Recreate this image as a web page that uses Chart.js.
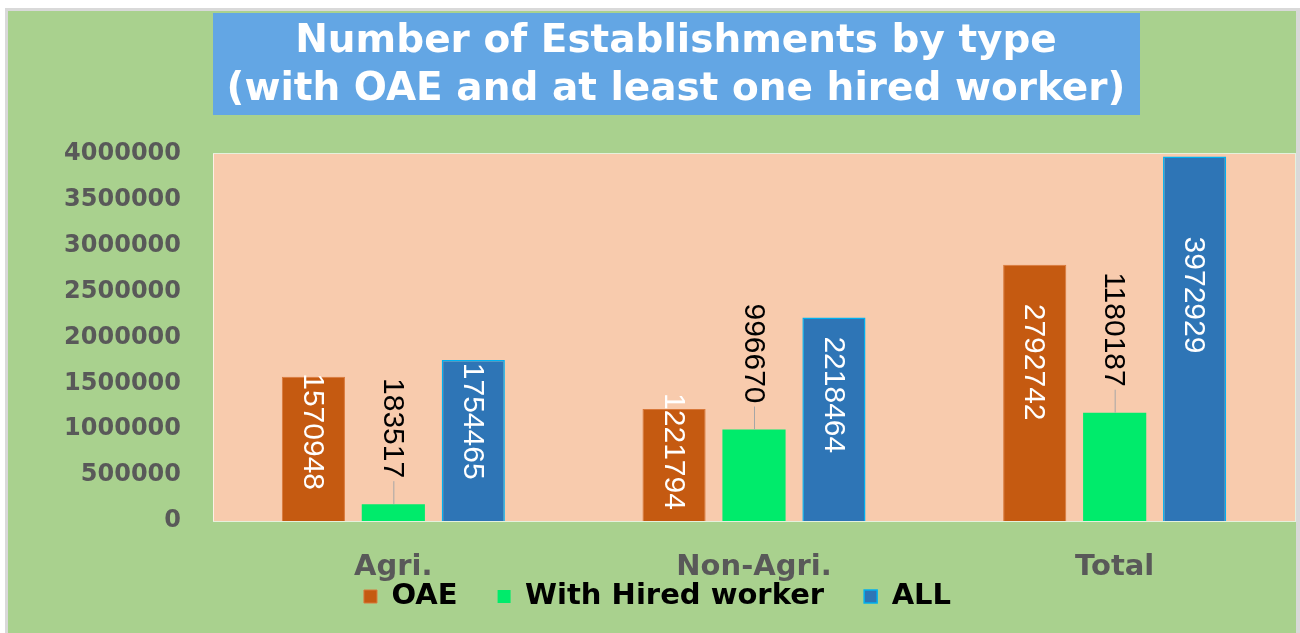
<!DOCTYPE html>
<html>
<head>
<meta charset="utf-8">
<script src="https://cdn.jsdelivr.net/npm/chart.js@4.4.1/dist/chart.umd.min.js"></script>
<style>
  html, body { margin: 0; padding: 0; background: #fff; }
  #wrap { width: 1300px; height: 633px; position: relative; }
</style>
</head>
<body>
<div id="wrap"><canvas id="estChart" width="1300" height="633"></canvas></div>
<script>
// 데이터
const categories = ['Agri.', 'Non-Agri.', 'Total'];
const oae = [1570948, 1221794, 2792742];
const hired = [183517, 996670, 1180187];
const all = [1754465, 2218464, 3972929];
const titleLines = ['Number of Establishments by type', '(with OAE and at least one hired worker)'];

// 배경, 제목 상자, 플롯 영역
const backdrop = {
    id: 'backdrop',
    beforeDraw(chart) {
        const { ctx, chartArea: a } = chart;
        ctx.save();
        ctx.fillStyle = '#ffffff';
        ctx.fillRect(0, 0, chart.width, chart.height);
        ctx.fillStyle = '#d9d9d9';
        ctx.fillRect(5, 8, chart.width - 5, chart.height - 8);
        ctx.fillStyle = '#a9d18e';
        ctx.fillRect(8, 11, chart.width - 12, chart.height - 11);
        // plot area
        ctx.fillStyle = '#f8cbad';
        ctx.fillRect(a.left, a.top, a.right - a.left, a.bottom - a.top);
        ctx.strokeStyle = 'rgba(255,255,255,0.7)';
        ctx.lineWidth = 1;
        ctx.strokeRect(a.left + 0.5, a.top - 0.5, a.right - a.left, a.bottom - a.top + 1);
        // title box
        ctx.fillStyle = '#63a6e4';
        ctx.fillRect(213, 13, 927, 102);
        ctx.fillStyle = '#ffffff';
        ctx.font = 'bold 39px "DejaVu Sans"';
        ctx.textAlign = 'center';
        ctx.textBaseline = 'middle';
        ctx.fillText(titleLines[0], 676, 42);
        ctx.fillText(titleLines[1], 676, 90);
        ctx.restore();
    }
};

// 막대 값 라벨 (세로 방향)
const barLabels = {
    id: 'barLabels',
    afterDatasetsDraw(chart) {
        const { ctx } = chart;
        ctx.save();
        ctx.font = '30px "Liberation Sans", Arial';
        ctx.textAlign = 'center';
        ctx.textBaseline = 'middle';
        chart.data.datasets.forEach((ds, di) => {
            chart.getDatasetMeta(di).data.forEach((bar, i) => {
                const txt = String(ds.data[i]);
                const w = ctx.measureText(txt).width;
                let cy;
                if (di === 1) {
                    // 초록 막대: 막대 위, 검은 글씨 + 지시선
                    const gap = 26;
                    cy = bar.y - gap - w / 2;
                    ctx.strokeStyle = '#a6a6a6';
                    ctx.lineWidth = 1;
                    ctx.beginPath();
                    ctx.moveTo(bar.x + 0.5, bar.y);
                    ctx.lineTo(bar.x + 0.5, bar.y - gap + 3);
                    ctx.stroke();
                    ctx.fillStyle = '#000000';
                } else {
                    cy = bar.y + (bar.base - bar.y) * 0.38;
                    ctx.fillStyle = '#ffffff';
                }
                ctx.save();
                ctx.translate(bar.x, cy);
                ctx.rotate(Math.PI / 2);
                ctx.fillText(txt, 0, 1);
                ctx.restore();
            });
        });
        ctx.restore();
    }
};

Chart.defaults.font.family = '"DejaVu Sans"';

const ctx = document.getElementById('estChart').getContext('2d');
new Chart(ctx, {
    type: 'bar',
    data: {
        labels: categories,
        datasets: [
            {
                label: 'OAE',
                data: oae,
                backgroundColor: '#c55a11',
                borderColor: '#d9783a',
                borderWidth: 1
            },
            {
                label: 'With Hired worker',
                data: hired,
                backgroundColor: '#00eb6b',
                borderColor: '#00eb6b',
                borderWidth: 0
            },
            {
                label: 'ALL',
                data: all,
                backgroundColor: '#2e75b6',
                borderColor: '#00b0f0',
                borderWidth: 1.5
            }
        ]
    },
    plugins: [backdrop, barLabels],
    options: {
        responsive: false,
        animation: false,
        layout: {
            padding: { left: 20, right: 5, top: 154, bottom: 12 }
        },
        datasets: {
            bar: { categoryPercentage: 0.665, barPercentage: 0.79 }
        },
        plugins: {
            title: { display: false },
            tooltip: { enabled: false },
            legend: {
                position: 'bottom',
                labels: {
                    color: '#000000',
                    boxWidth: 13,
                    boxHeight: 13,
                    padding: 40,
                    font: { size: 29, weight: 'bold' }
                }
            }
        },
        scales: {
            x: {
                grid: { display: false, drawTicks: false },
                border: { display: false },
                afterFit: s => {
                    s.height = 21;
                    // 축 높이를 줄였으니 라벨 클리핑은 끈다
                    s._computeLabelArea = () => undefined;
                },
                ticks: {
                    autoSkip: false,
                    maxRotation: 0,
                    color: '#595959',
                    padding: 29,
                    font: { size: 29, weight: 'bold' }
                }
            },
            y: {
                min: 0,
                max: 4000000,
                grid: { display: false, drawTicks: false },
                border: { display: false },
                afterFit: s => { s.width = 193; },
                ticks: {
                    stepSize: 500000,
                    color: '#595959',
                    padding: 32,
                    font: { size: 24, weight: 'bold' },
                    callback: v => String(v)
                }
            }
        }
    }
});
</script>
</body>
</html>
